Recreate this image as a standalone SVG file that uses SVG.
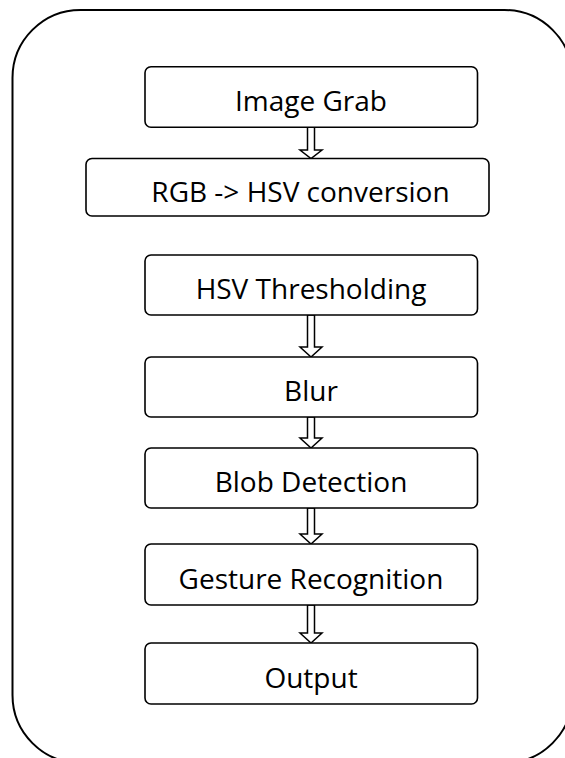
<svg xmlns="http://www.w3.org/2000/svg" width="565" height="758" viewBox="0 0 565 758">
<style>
.frame{fill:#fff;stroke:#000;stroke-width:2}
.box{fill:#fff;stroke:#000;stroke-width:1.6}
.lbl{font-family:"Open Sans","Noto Sans","Liberation Sans",sans-serif;font-size:28px;fill:#000;text-anchor:middle}
.arr{fill:#fff;stroke:#000;stroke-width:1.5;stroke-linejoin:miter}
</style>
<rect width="565" height="758" fill="#fff"/>
<rect id="frame" class="frame" x="12.5" y="10" width="560" height="753" rx="68" ry="68"/>
<g id="connectors">
<path class="arr" d="M307.5 127.3V150H300L311 158.5L322 150H314.5V127.3Z"/>
<path class="arr" d="M307.5 315V347H300L311 357L322 347H314.5V315Z"/>
<path class="arr" d="M307.5 417V438H300L311 448L322 438H314.5V417Z"/>
<path class="arr" d="M307.5 508V534H300L311 544L322 534H314.5V508Z"/>
<path class="arr" d="M307.5 605V633H300L311 643L322 633H314.5V605Z"/>
</g>
<g id="n1"><rect class="box" x="145" y="66.7" width="332.5" height="60.6" rx="6"/><text class="lbl" x="311" y="111">Image Grab</text></g>
<g id="n2"><rect class="box" x="86" y="158.5" width="403" height="57.5" rx="6"/><text class="lbl" x="300.5" y="201.5">RGB -&gt; HSV conversion</text></g>
<g id="n3"><rect class="box" x="145" y="255" width="332.5" height="60" rx="6"/><text class="lbl" x="311" y="299">HSV Thresholding</text></g>
<g id="n4"><rect class="box" x="145" y="357" width="332.5" height="60" rx="6"/><text class="lbl" x="311" y="401">Blur</text></g>
<g id="n5"><rect class="box" x="145" y="448" width="332.5" height="60" rx="6"/><text class="lbl" x="311" y="492">Blob Detection</text></g>
<g id="n6"><rect class="box" x="145" y="544" width="332.5" height="61" rx="6"/><text class="lbl" x="311" y="588.5">Gesture Recognition</text></g>
<g id="n7"><rect class="box" x="145" y="643" width="332.5" height="61" rx="6"/><text class="lbl" x="311" y="687.5">Output</text></g>
</svg>
